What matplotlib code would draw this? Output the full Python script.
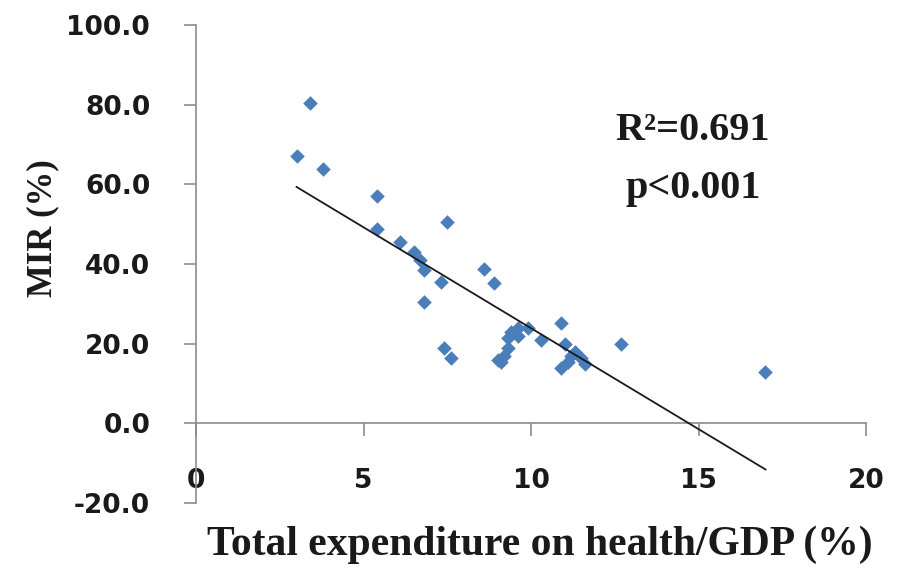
import numpy as np
import matplotlib
matplotlib.use('Agg')
import matplotlib.pyplot as plt

# health expenditure (% of GDP) vs MIR (%)
tehe = [3.0, 3.4, 3.8, 5.4, 5.4, 6.1, 6.5, 6.7, 6.8, 6.8, 7.3, 7.5, 7.4, 7.6,
        8.6, 8.9, 9.0, 9.1, 9.2, 9.3, 9.3, 9.4, 9.6, 9.6, 9.9, 10.3, 10.9, 11.0,
        10.9, 11.1, 11.2, 11.3, 11.5, 11.6, 12.7, 17.0]
mir = [67.0, 80.5, 63.8, 57.0, 48.8, 45.5, 43.0, 41.0, 38.5, 30.5, 35.5, 50.5, 18.8, 16.5,
       38.8, 35.2, 16.0, 15.5, 17.0, 19.0, 21.5, 23.0, 24.0, 22.0, 24.0, 21.0, 25.2, 20.0,
       13.8, 15.5, 17.0, 18.0, 16.3, 14.8, 20.0, 12.8]

yticks = [-20, 0, 20, 40, 60, 80, 100]
xticks = [0, 5, 10, 15, 20]

grey = '#8c8c8c'
blue = '#4A7EBB'

fig = plt.figure(figsize=(9.05, 5.69), dpi=100)
ax = fig.add_axes([0.2166, 0.1160, 0.7403, 0.8401])

ax.scatter(tehe, mir, marker='D', s=55, color=blue, zorder=3, linewidths=0)

# linear trendline
x = np.array(tehe)
y = np.array(mir)
b, a = np.polyfit(x, y, 1)
xl = np.array([x.min(), x.max()])
ax.plot(xl, a + b * xl, color='#1a1a1a', lw=1.3, zorder=4)

ax.set_xlim(0, 20)
ax.set_ylim(-20, 100)

for s in ['top', 'right']:
    ax.spines[s].set_visible(False)
ax.spines['left'].set_color(grey)
ax.spines['bottom'].set_color(grey)
ax.spines['bottom'].set_position(('data', 0))
ax.spines['left'].set_linewidth(1.2)
ax.spines['bottom'].set_linewidth(1.2)

ax.set_yticks(yticks)
ax.set_yticklabels(['%.1f' % v for v in yticks])
ax.set_xticks(xticks)
ax.set_xticklabels([str(v) for v in xticks])
ax.tick_params(axis='y', direction='out', length=9, width=1.2, color=grey, pad=24,
               labelsize=19)
ax.tick_params(axis='x', direction='out', length=9, width=1.2, color=grey, pad=23,
               labelsize=19)
for lab in ax.get_xticklabels() + ax.get_yticklabels():
    lab.set_fontweight('bold')
    lab.set_color('#1a1a1a')

serif = dict(family='Liberation Serif', weight='bold', color='#1a1a1a')
fig.text(540 / 905, 1 - 545 / 569, 'Total expenditure on health/GDP (%)',
         ha='center', va='center', fontsize=30, **serif)
fig.text(43 / 905, 1 - 228 / 569, 'MIR (%)', rotation=90,
         ha='center', va='center', fontsize=25, **serif)
fig.text(693 / 905, 1 - 131 / 569, 'R²=0.691', ha='center', va='center',
         fontsize=29, **serif)
fig.text(693 / 905, 1 - 188 / 569, 'p<0.001', ha='center', va='center',
         fontsize=29, **serif)

fig.savefig('out.png', dpi=100)
